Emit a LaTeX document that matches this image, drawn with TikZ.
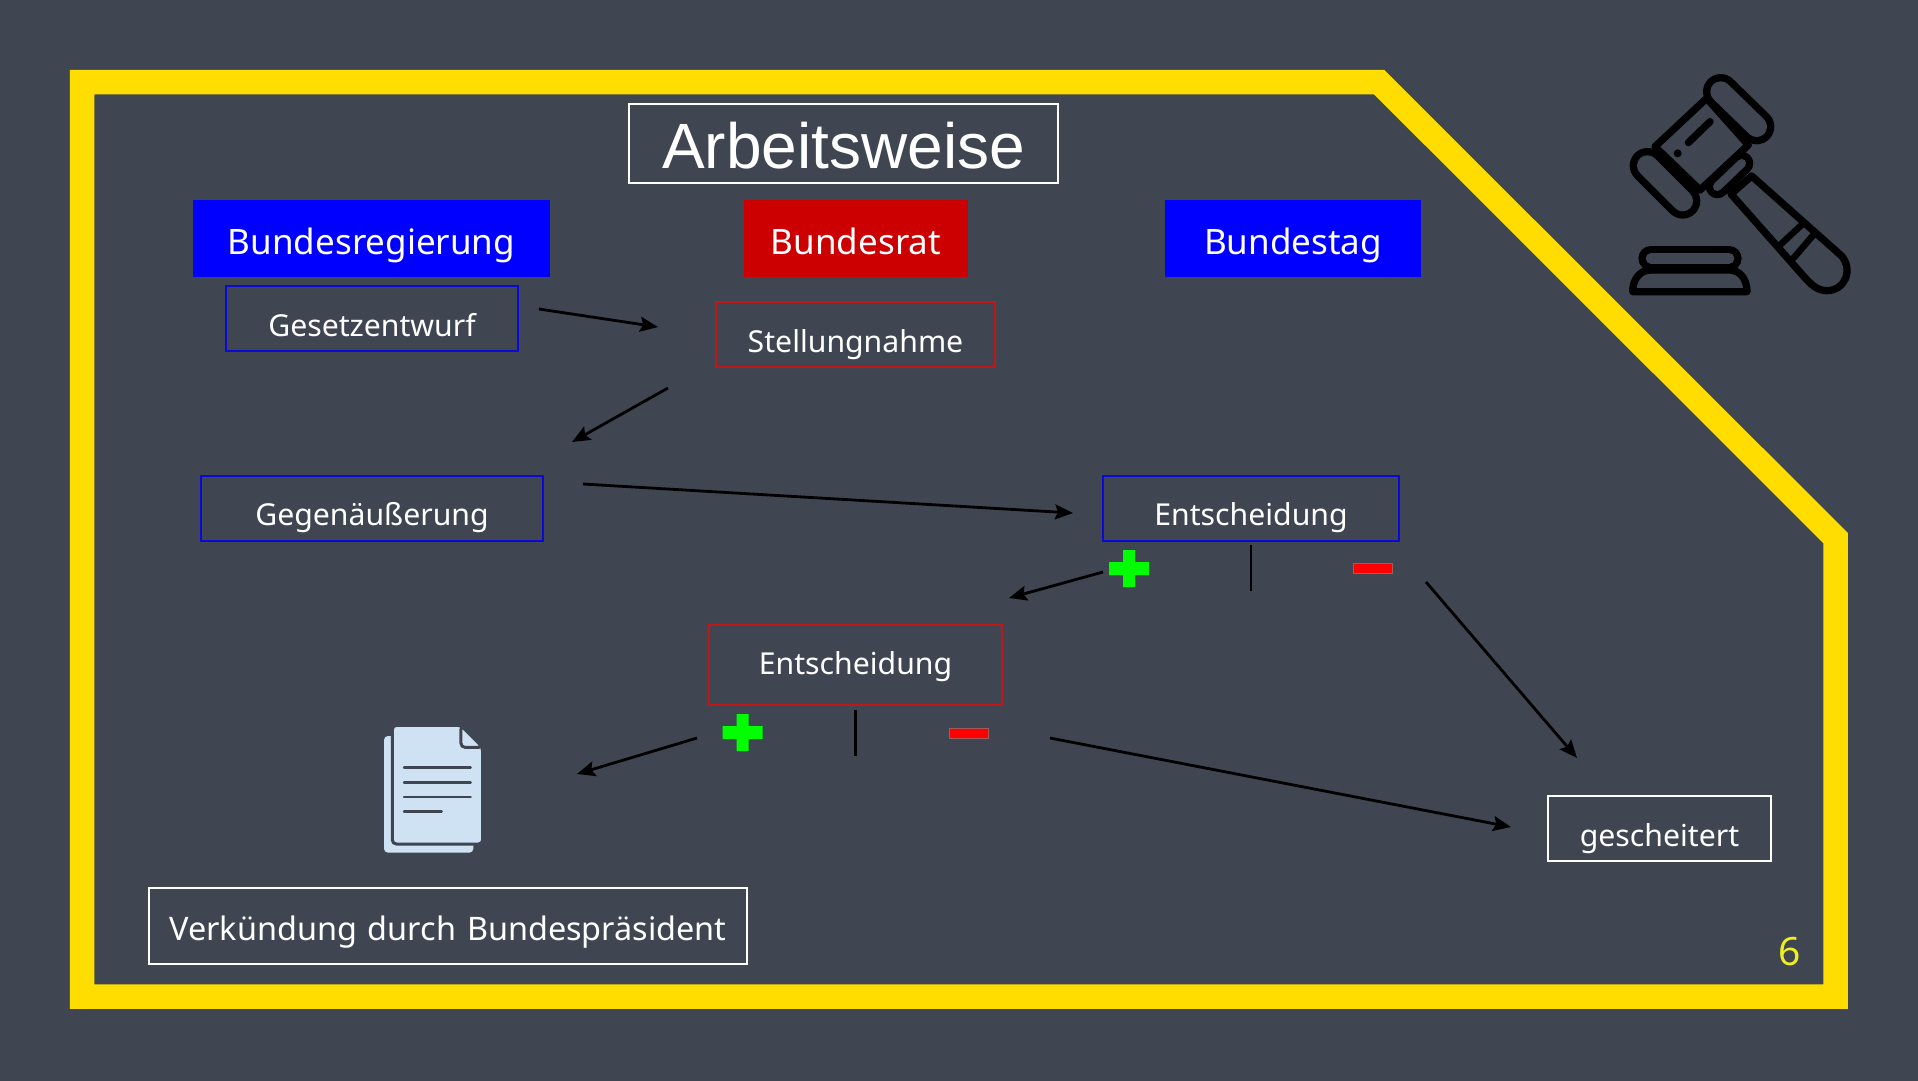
\documentclass[tikz,border=0pt]{standalone}
\usepackage{fontspec}
\setmainfont{Noto Sans}
\newfontfamily\titlefont{Liberation Sans}
\usetikzlibrary{arrows.meta}
\definecolor{bgc}{HTML}{3F4652}
\definecolor{framey}{HTML}{FFDD00}
\definecolor{fillblue}{HTML}{0000FF}
\definecolor{fillred}{HTML}{CC0000}
\definecolor{lineblue}{HTML}{0A0AD8}
\definecolor{linered}{HTML}{C01818}
\definecolor{docblue}{HTML}{CFE2F3}
\definecolor{plusg}{HTML}{00FF00}
\definecolor{pagey}{HTML}{EEEE22}
\newcommand{\bx}[8]{\node[#2,anchor=north west,inner sep=0pt,outer sep=0pt,align=center,
  text width=#5pt-#3pt,
  text height=#7pt-#4pt,
  text depth=#6pt-#7pt] (#1) at (#3,#4) {#8};}
\newcommand{\capsule}[5]{% x1 y1 x2 y2 radius (zoom coords in the icon scope)
  \draw[line cap=round,black,line width=#5*2/3+7.3pt] (#1,#2) -- (#3,#4);
  \draw[line cap=round,bgc,line width=#5*2/3-7.3pt] (#1,#2) -- (#3,#4);}
\tikzset{
  headfont/.style={font=\fontsize{35}{35}\selectfont},
  boxfont/.style={font=\fontsize{30.2}{30.2}\selectfont},
  txt/.style={text=white},
  headblue/.style={fill=fillblue,txt,headfont},
  headred/.style={fill=fillred,txt,headfont},
  boxblue/.style={draw=lineblue,line width=2.8pt,txt,boxfont},
  boxred/.style={draw=linered,line width=2.8pt,txt,boxfont},
  boxwhite/.style={draw=white,line width=2.8pt,txt,boxfont},
  conn/.style={black,line width=2.8pt,-{Stealth[length=18pt,width=15pt,inset=3pt]}},
  sep/.style={black,line width=2.8pt},
  frameline/.style={draw=framey,line width=24.5pt,miter limit=10},
  plusmark/.style={draw=none,fill=plusg},
  minusmark/.style={fill=red,draw=gray!70!red,line width=1pt},
  ico/.style={black,line width=7.3pt,line cap=round,line join=round},
  docline/.style={bgc,line width=2.4pt,line cap=round}
}
\begin{document}
\begin{tikzpicture}[x=1pt,y=-1pt]
\useasboundingbox (0,0) rectangle (1918,1080);
\fill[bgc] (-5,-5) rectangle (1925,1085);
% frame
\draw[frameline] (82,82) -- (1379,82) -- (1835.5,538) -- (1835.5,996.5) -- (82,996.5) -- cycle;
% title
\bx{title}{boxwhite,font=\titlefont\fontsize{64}{64}\selectfont}{629}{104}{1058}{183}{168}{Arbeitsweise}
% headers
\bx{hreg}{headblue}{193}{200}{550}{277}{254}{Bundesregierung}
\bx{hrat}{headred}{744}{200}{968}{277}{254}{Bundesrat}
\bx{htag}{headblue}{1165}{200}{1421}{277}{254}{Bundestag}
% boxes
\bx{ge}{boxblue}{226}{286}{518}{351}{336}{Gesetzentwurf}
\bx{st}{boxred}{716}{302}{995}{367}{352}{Stellungnahme}
\bx{gg}{boxblue}{201}{476}{543}{541}{525}{Gegenäußerung}
\bx{ent}{boxblue}{1103}{476}{1399}{541}{525}{Entscheidung}
\bx{enr}{boxred}{709}{625}{1002}{705}{674}{Entscheidung}
\bx{ges}{boxwhite}{1548}{796}{1771}{861}{846}{gescheitert}
\bx{ver}{boxwhite,font=\fontsize{32.4}{32.4}\selectfont}{149}{888}{747}{964}{940}{Verkündung durch Bundespräsident}
\node[text=pagey,font=\fontsize{39}{39}\selectfont,inner sep=0pt] (pg) at (1790,952) {6};
% free connector ends
\coordinate (a1s) at (539,309); \coordinate (a1e) at (658,327);
\coordinate (a2s) at (668,388); \coordinate (a2e) at (572,442);
\coordinate (a3s) at (583,484); \coordinate (a3e) at (1073,513);
\coordinate (a4s) at (1103,572); \coordinate (a4e) at (1009,598);
\coordinate (a5s) at (1426,582); \coordinate (a5e) at (1577,758);
\coordinate (a6s) at (697,738); \coordinate (a6e) at (577,774);
\coordinate (a7s) at (1050,738); \coordinate (a7e) at (1511,827);
\coordinate (v1s) at (1251,545); \coordinate (v1e) at (1251,591);
\coordinate (v2s) at (855.5,710); \coordinate (v2e) at (855.5,756);
\draw[conn] (a1s) -- (a1e);
\draw[conn] (a2s) -- (a2e);
\draw[conn] (a3s) -- (a3e);
\draw[conn] (a4s) -- (a4e);
\draw[conn] (a5s) -- (a5e);
\draw[conn] (a6s) -- (a6e);
\draw[conn] (a7s) -- (a7e);
\draw[sep] (v1s) -- (v1e);
\draw[sep] (v2s) -- (v2e);
% plus and minus marks
\fill[plusmark] (1109,562) rectangle (1149,575) (1123,550) rectangle (1135,587);
\fill[plusmark] (722.5,726) rectangle (762.5,739) (736.5,714) rectangle (748.5,751);
\draw[minusmark] (1353,563) rectangle (1392,573);
\draw[minusmark] (949,728) rectangle (988,738);
% gavel
\begin{scope}[shift={(1600,50)},x=0.3333pt,y=-0.3333pt]
 \draw[ico,fill=bgc] (165,290) -- (320,145) -- (445,285) -- (300,420) -- cycle;
 \draw[ico,fill=bgc] (455,378) -- (725,618) .. controls (760,660) and (735,722) .. (680,722)
   .. controls (650,722) and (630,700) .. (612,680) -- (393,432) -- cycle;
 \capsule{362}{125}{470}{230}{42}
 \capsule{142}{347}{248}{453}{42}
 \capsule{352}{410}{425}{340}{24}
 \draw[ico] (265,278) -- (330,215);
 \fill[black] (233,310) circle (12);
 \draw[ico,line width=6.5pt] (540,585) -- (610,520);
 \draw[ico,line width=6.5pt] (580,625) -- (640,555);
 \capsule{153}{625}{387}{625}{27}
 \draw[ico,fill=bgc] (98,725) .. controls (98,690) and (118,660) .. (153,660) -- (387,660)
   .. controls (422,660) and (441,690) .. (441,725) -- cycle;
\end{scope}
% document icon
\begin{scope}[shift={(360,700)},x=0.3333pt,y=-0.3333pt]
 \fill[docblue,rounded corners=4pt] (72,108) rectangle (340,458);
 \draw[bgc,line width=3pt,fill=docblue,rounded corners=4pt] (97,76) -- (305,76) -- (368,142) -- (368,432) -- (97,432) -- cycle;
 \draw[bgc,line width=3pt,fill=docblue,rounded corners=4pt] (303,76) -- (303,142) -- (368,142) -- cycle;
 \draw[docline] (132,203) -- (332,203);
 \draw[docline] (132,247) -- (332,247);
 \draw[docline] (132,291) -- (332,291);
 \draw[docline] (132,335) -- (245,335);
\end{scope}
\end{tikzpicture}
\end{document}
